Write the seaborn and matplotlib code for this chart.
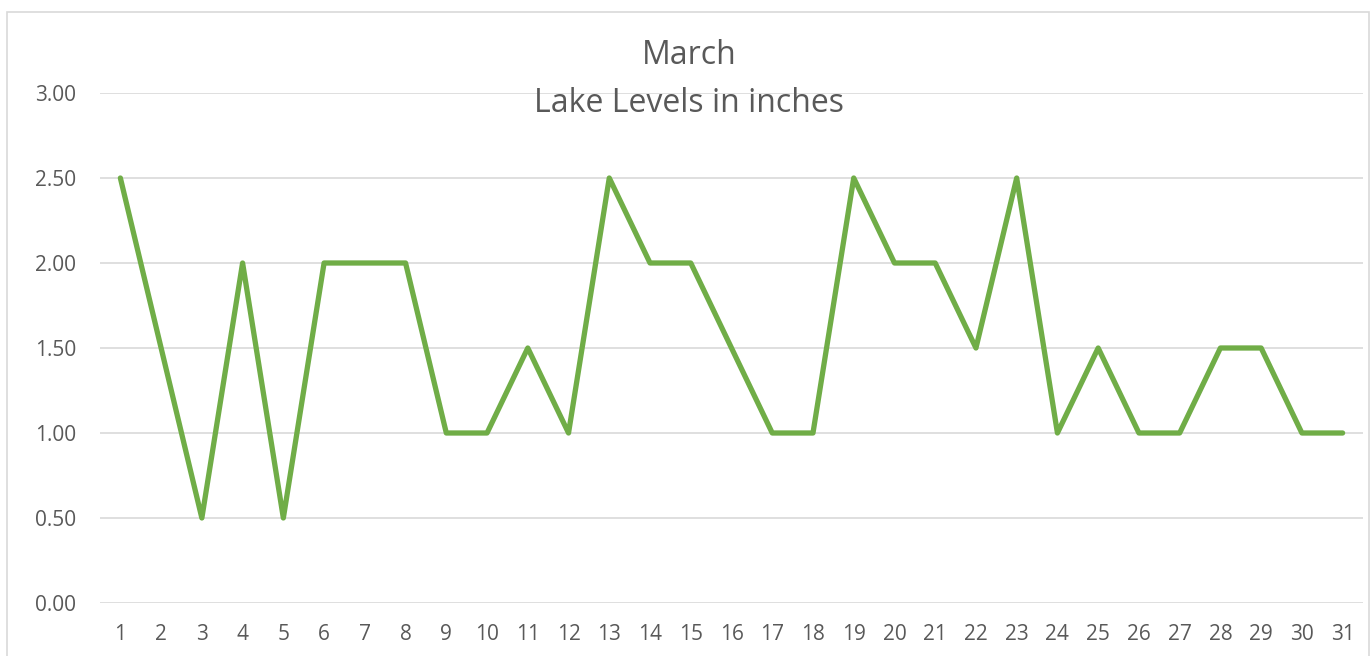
import numpy as np
import pandas as pd
import matplotlib
matplotlib.use('Agg')
import matplotlib.pyplot as plt
from matplotlib.patches import Rectangle
import seaborn as sns

sns.set_style('white')
plt.rcParams['font.family'] = ['Open Sans', 'DejaVu Sans']

# data
days = list(range(1, 32))
levels = [2.5, 1.5, 0.5, 2.0, 0.5, 2.0, 2.0, 2.0, 1.0, 1.0,
          1.5, 1.0, 2.5, 2.0, 2.0, 1.5, 1.0, 1.0, 2.5, 2.0,
          2.0, 1.5, 2.5, 1.0, 1.5, 1.0, 1.0, 1.5, 1.5, 1.0, 1.0]
yticks = [0.0, 0.5, 1.0, 1.5, 2.0, 2.5, 3.0]

df = pd.DataFrame({'day': days, 'level': levels})

fig = plt.figure(figsize=(13.71, 6.56), dpi=100)
ax = fig.add_axes([100 / 1371, 53 / 656, 1263 / 1371, 510 / 656])

sns.lineplot(data=df, x='day', y='level', ax=ax, color='#70AD47',
             linewidth=3.8, solid_joinstyle='round', solid_capstyle='round')

ax.set_xlim(0.5, 31.5)
ax.set_ylim(0, 3.0)
ax.set_xticks(days)
ax.set_xticklabels([str(d) for d in days])
ax.set_yticks(yticks)
ax.set_yticklabels([f'{v:.2f}' for v in yticks])
ax.tick_params(axis='both', length=0, labelsize=15, labelcolor='#595959')
ax.tick_params(axis='y', pad=17)
ax.tick_params(axis='x', pad=15)
ax.set_xlabel('')
ax.set_ylabel('')
for s in ax.spines.values():
    s.set_visible(False)
ax.yaxis.grid(True, color='#D9D9D9', linewidth=1.2)
ax.xaxis.grid(False)
ax.set_axisbelow(True)

fig.text(0.5025, 1 - 56 / 656, 'March', ha='center', va='center',
         fontsize=23, color='#595959')
fig.text(0.5025, 1 - 103 / 656, 'Lake Levels in inches', ha='center', va='center',
         fontsize=23, color='#595959')

# chart border like the spreadsheet frame
fig.patches.append(Rectangle((7 / 1371, -0.05), 1362 / 1371, 1.05 - 12 / 656,
                             transform=fig.transFigure, fill=False,
                             edgecolor='#D9D9D9', linewidth=1.2))

fig.savefig('out.png', dpi=100)
